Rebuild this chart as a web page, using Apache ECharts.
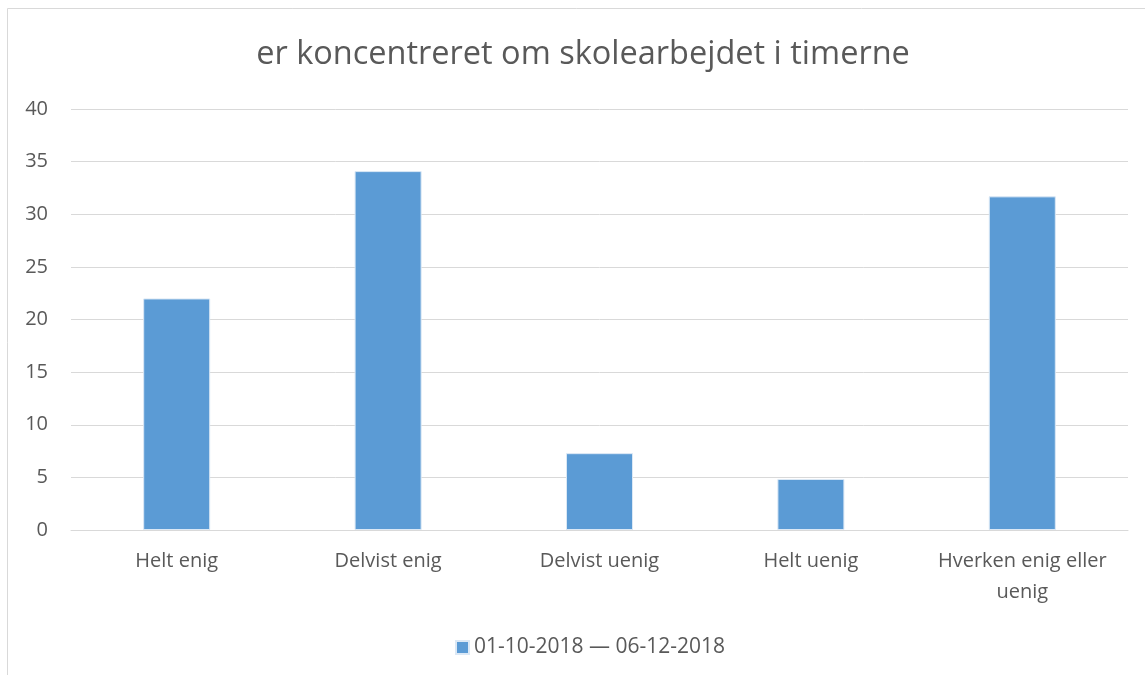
<!DOCTYPE html>
<html><head><meta charset="utf-8">
<script src="https://cdn.jsdelivr.net/npm/echarts@6/dist/echarts.min.js"></script>
<style>html,body{margin:0;padding:0;background:#fff}#c{width:1145px;height:675px}</style>
</head><body><div id="c"></div>
<script>
const titleText = "er koncentreret om skolearbejdet i timerne";
const categories = ["Helt enig", "Delvist enig", "Delvist uenig", "Helt uenig", "Hverken enig eller uenig"];
const seriesName = "01-10-2018 \u2014 06-12-2018";
const values = [22.0, 34.1, 7.3, 4.85, 31.7];
const yTicks = {min: 0, max: 40, interval: 5};

const chart = echarts.init(document.getElementById('c'), null, {renderer: 'canvas'});
const font = "'Open Sans', sans-serif";
chart.setOption({
  backgroundColor: '#fff',
  animation: false,
  graphic: [
    {type: 'rect', shape: {x: 7.5, y: 8.5, width: 1152, height: 700}, style: {fill: 'none', stroke: '#d9d9d9', lineWidth: 1}},
    {type: 'text', x: 583, y: 38, style: {text: titleText, fontFamily: font, fontSize: 32.5, fill: '#595959', align: 'center', verticalAlign: 'top'}}
  ],
  legend: {top: 632, left: 450, itemWidth: 13, itemHeight: 13, itemGap: 6,
    textStyle: {fontFamily: font, fontSize: 21, color: '#595959'}, icon: 'rect', data: [seriesName]},
  grid: {left: 71, right: 17, top: 109, bottom: 145, containLabel: false},
  xAxis: {type: 'category', data: categories,
    axisLine: {lineStyle: {color: '#d9d9d9', width: 1}}, axisTick: {show: false},
    axisLabel: {fontFamily: font, fontSize: 20, color: '#595959', margin: 16, interval: 0, lineHeight: 31,
      formatter: v => v === "Hverken enig eller uenig" ? "Hverken enig eller\nuenig" : v}},
  yAxis: {type: 'value', min: yTicks.min, max: yTicks.max, interval: yTicks.interval,
    axisLine: {show: false}, axisTick: {show: false},
    axisLabel: {fontFamily: font, fontSize: 20, color: '#595959', margin: 23},
    splitLine: {lineStyle: {color: '#d9d9d9', width: 1}}},
  series: [{name: seriesName, type: 'bar', data: values, barWidth: '31.7%',
    itemStyle: {color: '#5B9BD5', borderColor: '#dbe8f5', borderWidth: 1}}]
});
</script></body></html>
